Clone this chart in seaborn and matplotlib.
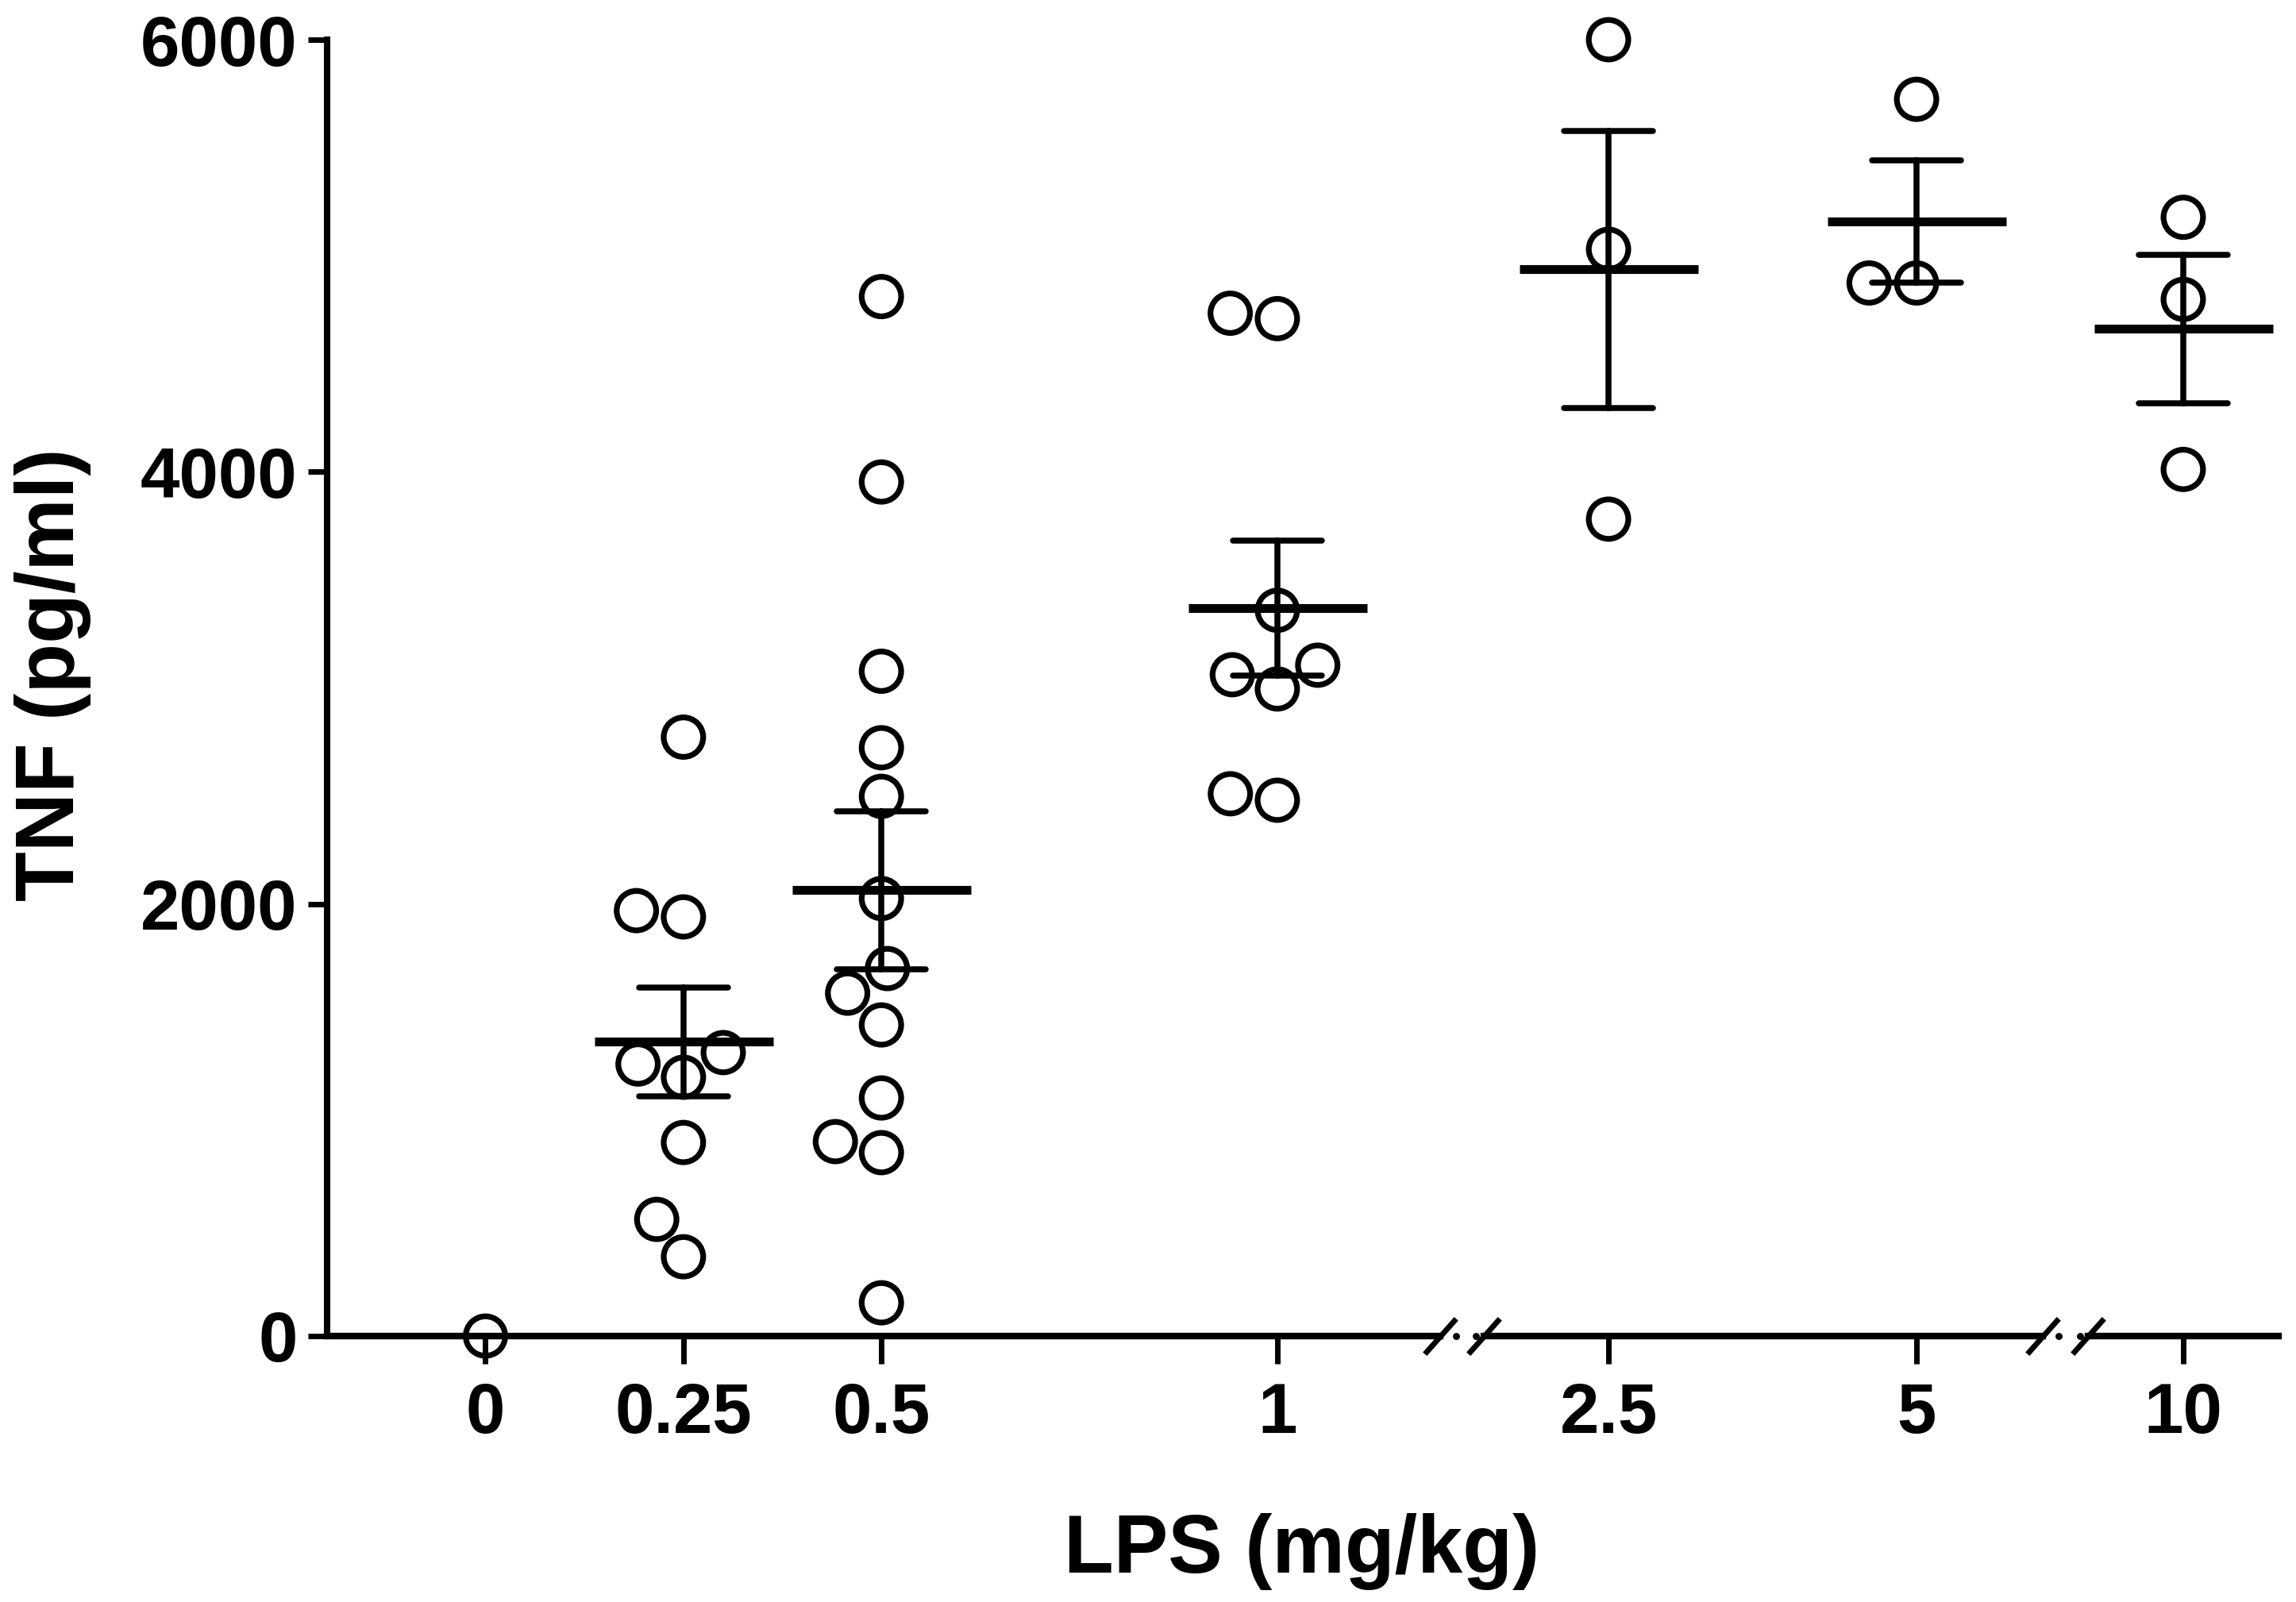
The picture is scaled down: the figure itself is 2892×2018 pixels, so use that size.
import numpy as np
import pandas as pd
import matplotlib.pyplot as plt
import seaborn as sns

# TNF (pg/ml), one list per LPS dose
tnf_0 = [0]
tnf_025 = [2772, 1969, 1940, 1312, 1259, 1198, 896, 540, 367]
tnf_05 = [4811, 3953, 3077, 2723, 2498, 2025, 1701, 1587, 1440, 1102, 900, 849, 154]
tnf_1 = [4734, 4709, 3359, 3105, 3061, 2995, 2510, 2480]
tnf_25 = [6000, 5030, 3781]
tnf_5 = [5724, 4874, 4874]
tnf_10 = [5178, 4798, 4011]

doses = [0, 0.25, 0.5, 1, 2.5, 5, 10]
groups = [tnf_0, tnf_025, tnf_05, tnf_1, tnf_25, tnf_5, tnf_10]

# broken x axis: doses and tick labels of each piece
seg_doses = [[0, 0.25, 0.5, 1], [2.5, 5], [10]]
seg_labels = [["0", "0.25", "0.5", "1"], ["2.5", "5"], ["10"]]
y_ticks = [0, 2000, 4000, 6000]

df = pd.DataFrame({
    "dose": np.repeat(doses, [len(g) for g in groups]),
    "tnf": np.concatenate(groups).astype(float),
})

# layout in output pixels
W, H, DPI = 2892, 2018, 200
bottom, top = 335, 1968
seg_px = [(412, 1814), (1869, 2573), (2630, 2870)]
seg_lims = [(-0.2, 1.2056), (1.488, 6.024), (9.227, 10.773)]
cap_px = 112

sns.set_style("ticks")
plt.rcParams["font.family"] = ["Liberation Sans", "DejaVu Sans"]
plt.rcParams["font.weight"] = "bold"
for key in ["text.color", "axes.labelcolor", "axes.edgecolor", "xtick.color", "ytick.color"]:
    plt.rcParams[key] = "black"

fig = plt.figure(figsize=(W / DPI, H / DPI), dpi=DPI)

for i, (d, labels, (x0, x1), lims) in enumerate(zip(seg_doses, seg_labels, seg_px, seg_lims)):
    ax = fig.add_axes([x0 / W, bottom / H, (x1 - x0) / W, (top - bottom) / H])
    sub = df[df["dose"].isin(d)]

    # individual animals
    sns.swarmplot(data=sub, x="dose", y="tnf", native_scale=True, orient="x",
                  size=17.9, color="black", facecolor="none", edgecolor="black",
                  linewidth=2.6, clip_on=False, ax=ax)

    # mean +/- SEM for groups with more than one value
    stats = sub[sub.groupby("dose")["tnf"].transform("size") > 1]
    ppu = (x1 - x0) / (lims[1] - lims[0])
    u = np.unique(stats["dose"])
    native = np.diff(u).min() if len(u) > 1 else 1
    sns.pointplot(data=stats, x="dose", y="tnf", native_scale=True, orient="x",
                  errorbar="se", capsize=cap_px / ppu / native, color="black",
                  marker="_", markersize=81, markeredgewidth=4, linestyle="none",
                  err_kws={"linewidth": 2.7, "linestyle": "-", "zorder": 4},
                  zorder=4, ax=ax)

    ax.set_xlim(lims)
    ax.set_ylim(0, 6000)
    ax.set_xticks(d, labels)
    ax.set_xlabel("")
    ax.set_ylabel("")
    ax.patch.set_alpha(0)
    sns.despine(ax=ax, left=(i > 0))
    ax.spines["bottom"].set_linewidth(3)
    ax.tick_params(axis="x", length=12.5, width=2.5, pad=8, labelsize=32, colors="black")
    if i == 0:
        ax.set_yticks(y_ticks, [str(v) for v in y_ticks])
        ax.spines["left"].set_linewidth(2.9)
        ax.tick_params(axis="y", length=8.5, width=2.5, pad=5, labelsize=32, colors="black")
    else:
        ax.set_yticks([])

    # axis break marks
    kw = dict(marker=[(-1, -1.125), (1, 1.125)], markersize=16, color="black",
              markeredgewidth=2.5, linestyle="none", clip_on=False,
              transform=ax.transAxes)
    dot = dict(marker="o", markersize=2.2, color="black", linestyle="none",
               clip_on=False, transform=ax.transAxes)
    if i < 2:
        ax.plot([1], [0], **kw)
        ax.plot([1 + 20 / (x1 - x0)], [0], **dot)
    if i > 0:
        ax.plot([0], [0], **kw)
        ax.plot([-10 / (x1 - x0)], [0], **dot)

fig.text(1640 / W, 37 / H, "LPS (mg/kg)", ha="center", va="baseline",
         fontsize=37, fontweight="bold", color="black")
fig.text(67 / W, 1 - 850 / H, "TNF (pg/ml)", rotation=90, ha="center",
         va="center", fontsize=37, fontweight="bold", color="black")

fig.savefig("out.png", dpi=DPI)
